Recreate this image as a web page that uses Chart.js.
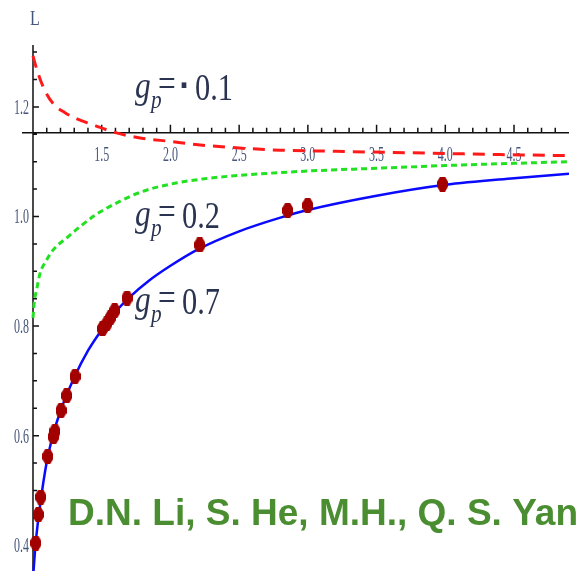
<!DOCTYPE html>
<html lang="en">
<head>
<meta charset="UTF-8">
<title>L vs x for three g_p values</title>
<script src="https://cdn.jsdelivr.net/npm/chart.js"></script>
<style>
html, body { margin: 0; padding: 0; background: #fff; overflow: hidden; }
canvas { display: block; }
</style>
</head>
<body>
<canvas id="chart" width="581" height="579"></canvas>

<script>
// curve g_p = -0.1 (red dashed)
const redX = [1.0, 1.02, 1.05, 1.09, 1.15, 1.23, 1.32, 1.43, 1.6, 1.79, 2.0, 2.2, 2.5, 2.8, 3.2, 3.6, 4.0, 4.4, 4.9];
const redY = [1.293, 1.275, 1.252, 1.228, 1.205, 1.190, 1.178, 1.168, 1.153, 1.143, 1.137, 1.131, 1.125, 1.121, 1.119, 1.117, 1.115, 1.113, 1.111];

// curve g_p = 0.2 (green dashed)
const greenX = [1.0, 1.01, 1.027, 1.05, 1.1, 1.15, 1.25, 1.35, 1.45, 1.61, 1.8, 2.0, 2.25, 2.5, 3.0, 3.5, 4.0, 4.5, 4.9];
const greenY = [0.815, 0.845, 0.867, 0.895, 0.921, 0.940, 0.962, 0.983, 1.002, 1.025, 1.046, 1.059, 1.069, 1.075, 1.083, 1.088, 1.093, 1.097, 1.100];

// curve g_p = 0.7 (blue)
const blueX = [1.0, 1.02, 1.05, 1.1, 1.15, 1.2, 1.3, 1.4, 1.5, 1.6, 1.7, 1.85, 2.0, 2.2, 2.5, 2.8, 3.0, 3.5, 4.0, 4.5, 4.9];
const blueY = [0.34, 0.405, 0.47, 0.552, 0.605, 0.645, 0.706, 0.755, 0.793, 0.826, 0.852, 0.884, 0.910, 0.940, 0.973, 0.998, 1.012, 1.038, 1.058, 1.070, 1.078];

// data points
const ptX = [1.020, 1.039, 1.056, 1.107, 1.148, 1.160, 1.204, 1.245, 1.306, 1.505, 1.536, 1.563, 1.594, 1.684, 2.213, 2.853, 2.999, 3.980];
const ptY = [0.404, 0.456, 0.488, 0.562, 0.598, 0.608, 0.646, 0.673, 0.708, 0.795, 0.804, 0.815, 0.828, 0.851, 0.948, 1.011, 1.020, 1.059];

// axes
const xMajor = [1.5, 2.0, 2.5, 3.0, 3.5, 4.0, 4.5];
const yMajor = [0.4, 0.6, 0.8, 1.0, 1.2];
const xAxisAt = 1.153;   // where the horizontal axis crosses
const yAxisAt = 1.0;
const xMinor = [];
for (let v = 11; v <= 48; v++) xMinor.push(v / 10);
const yMinor = [];
for (let v = 8; v <= 26; v++) yMinor.push(v / 20);

const labels = [
  { x: 135, base: 100, val: '0.1', minus: true },
  { x: 135, base: 228, val: '0.2', minus: false },
  { x: 135, base: 314, val: '0.7', minus: false }
];

const toXY = (xs, ys) => xs.map((v, i) => ({ x: v, y: ys[i] }));

function makeDot() {
  const c = document.createElement('canvas');
  c.width = 11; c.height = 15;
  const g = c.getContext('2d');
  g.fillStyle = '#a30000';
  g.beginPath();
  g.moveTo(3, 0); g.lineTo(8, 0); g.lineTo(11, 5); g.lineTo(11, 10);
  g.lineTo(8, 15); g.lineTo(3, 15); g.lineTo(0, 10); g.lineTo(0, 5);
  g.closePath(); g.fill();
  return c;
}

function squeezeText(ctx, txt, x, y, sx, align) {
  ctx.save();
  ctx.translate(x, y);
  ctx.scale(sx, 1);
  ctx.textAlign = align || 'left';
  ctx.fillText(txt, 0, 0);
  ctx.restore();
}

const mmaAxes = {
  id: 'mmaAxes',
  beforeDatasetsDraw(chart) {
    const { ctx, scales: { x, y } } = chart;
    const ax = x.getPixelForValue(yAxisAt);
    const ay = y.getPixelForValue(xAxisAt);
    ctx.save();
    ctx.strokeStyle = '#111';
    ctx.lineWidth = 1.5;
    ctx.beginPath();
    ctx.moveTo(x.left, ay); ctx.lineTo(x.right, ay);
    ctx.moveTo(ax, y.top); ctx.lineTo(ax, y.bottom);
    xMinor.forEach(v => {
      const px = x.getPixelForValue(v);
      const len = xMajor.some(m => Math.abs(m - v) < 1e-6) ? 8 : 5;
      ctx.moveTo(px, ay); ctx.lineTo(px, ay - len);
    });
    yMinor.forEach(v => {
      const py = y.getPixelForValue(v);
      const len = yMajor.some(m => Math.abs(m - v) < 1e-6) ? 6 : 4;
      ctx.moveTo(ax, py); ctx.lineTo(ax + len, py);
    });
    ctx.stroke();

    ctx.fillStyle = '#46557a';
    ctx.font = '20px "Liberation Serif"';
    ctx.textBaseline = 'alphabetic';
    xMajor.forEach(v => squeezeText(ctx, v.toFixed(1), x.getPixelForValue(v), ay + 28, 0.6, 'center'));
    yMajor.forEach(v => squeezeText(ctx, v.toFixed(1), ax - 4, y.getPixelForValue(v) + 7, 0.6, 'right'));
    squeezeText(ctx, 'L', ax - 3, 25, 0.8, 'left');
    ctx.restore();
  },
  afterDraw(chart) {
    const ctx = chart.ctx;
    ctx.save();
    ctx.fillStyle = '#2a3450';
    labels.forEach(l => {
      ctx.font = 'italic 37px "Liberation Serif"';
      squeezeText(ctx, 'g', l.x, l.base - 2, 0.85);
      ctx.font = 'italic 25px "Liberation Serif"';
      squeezeText(ctx, 'p', l.x + 16, l.base + 8, 0.85);
      ctx.font = '37px "Liberation Serif"';
      squeezeText(ctx, '=', l.x + 23, l.base - 4, 0.85);
      if (l.minus) {
        ctx.save();
        ctx.font = 'bold 30px "Liberation Serif"';
        ctx.translate(l.x + 46, l.base + 1);
        ctx.scale(0.6, 2.2);
        ctx.fillText('-', 0, 0);
        ctx.restore();
        squeezeText(ctx, l.val, l.x + 60, l.base, 0.82);
      } else {
        squeezeText(ctx, l.val, l.x + 47, l.base, 0.82);
      }
    });

    // authors line
    const txt = 'D.N. Li, S. He, M.H., Q. S. Yan';
    ctx.font = 'bold 36px "Liberation Sans"';
    ctx.fillStyle = '#4b8e32';
    const w = ctx.measureText(txt).width;
    squeezeText(ctx, txt, 68, 525, 510 / w);
    ctx.restore();
  }
};

new Chart(document.getElementById('chart').getContext('2d'), {
  type: 'line',
  data: {
    datasets: [
      { type: 'scatter', data: toXY(ptX, ptY), pointStyle: makeDot(), pointRadius: 7, showLine: false, order: 0 },
      { data: toXY(blueX, blueY), borderColor: '#0a0aff', borderWidth: 2.5, pointRadius: 0, cubicInterpolationMode: 'monotone', order: 1 },
      { data: toXY(greenX, greenY), borderColor: '#22e022', borderWidth: 3, borderDash: [6, 4], pointRadius: 0, cubicInterpolationMode: 'monotone', order: 2 },
      { data: toXY(redX, redY), borderColor: '#ff1a1a', borderWidth: 3, borderDash: [12, 8], pointRadius: 0, cubicInterpolationMode: 'monotone', order: 3 }
    ]
  },
  options: {
    responsive: false,
    animation: false,
    events: [],
    layout: { padding: { left: 22, right: 12, top: 45, bottom: 0 } },
    plugins: { legend: { display: false }, tooltip: { enabled: false } },
    scales: {
      x: { type: 'linear', min: 0.92, max: 4.9, display: false },
      y: { type: 'linear', min: 0.353, max: 1.313, display: false }
    }
  },
  plugins: [mmaAxes]
});
</script>
</body>
</html>
